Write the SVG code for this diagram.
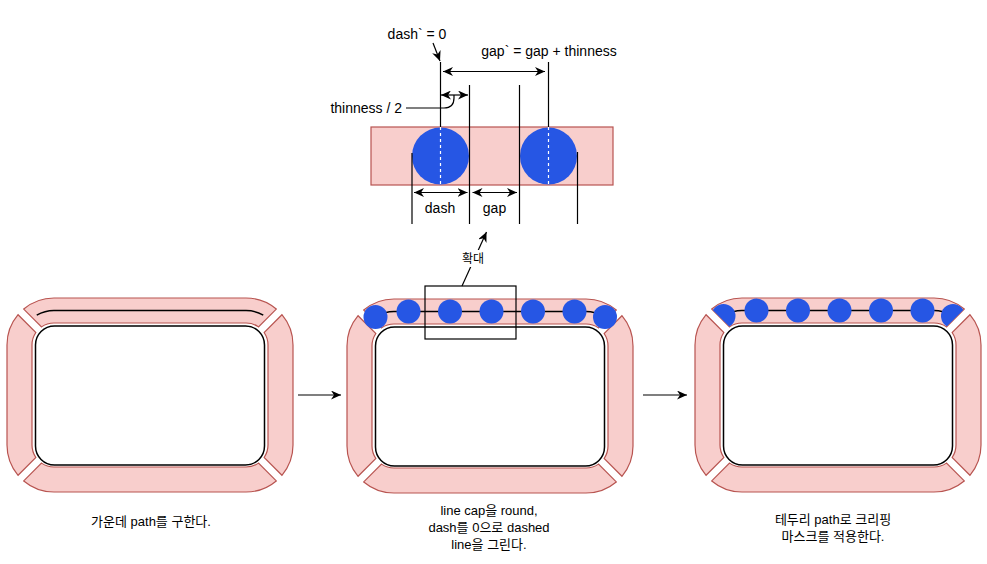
<svg xmlns="http://www.w3.org/2000/svg" width="987" height="564" viewBox="0 0 987 564">
<style>
.band{fill:#f8cecc;stroke:#b85450;stroke-width:1.2}
.inner{fill:#fff;stroke:#000;stroke-width:1.5}
.cpath{fill:none;stroke:#000;stroke-width:1.5}
.dot{fill:#2656e4}
.ln{fill:none;stroke:#000;stroke-width:1.2}
.wd{fill:none;stroke:#fff;stroke-width:1.2;stroke-dasharray:3 3}
.t{font-family:"Liberation Sans","Noto Sans CJK KR",sans-serif;fill:#000;text-anchor:middle}
.t14{font-size:14px}
.t13{font-size:13px}
.t12{font-size:12px}
</style>
<defs>
<marker id="ah" viewBox="0 0 10 9" refX="10" refY="4.5" markerWidth="10" markerHeight="9" markerUnits="userSpaceOnUse" orient="auto-start-reverse">
<path d="M0,0 L10,4.5 L0,9 L3,4.5 Z" fill="#000"/>
</marker>
<path id="toppiece" d="M16.72,11.06 A47,47 0 0 1 47,0 H239 A47,47 0 0 1 269.28,11.06 L251.47,28.87 A22,22 0 0 0 239,25 H47 A22,22 0 0 0 34.53,28.87 Z"/>
<clipPath id="topclip"><use href="#toppiece"/></clipPath>
<g id="frame">
<use href="#toppiece" class="band"/>
<path class="band" d="M16.72,182.94 A47,47 0 0 0 47,194 H239 A47,47 0 0 0 269.28,182.94 L251.47,165.13 A22,22 0 0 1 239,169 H47 A22,22 0 0 1 34.53,165.13 Z"/>
<path class="band" d="M11.06,16.72 A47,47 0 0 0 0,47 V147 A47,47 0 0 0 11.06,177.28 L28.87,159.47 A22,22 0 0 1 25,147 V47 A22,22 0 0 1 28.87,34.53 Z"/>
<path class="band" d="M274.94,16.72 A47,47 0 0 1 286,47 V147 A47,47 0 0 1 274.94,177.28 L257.13,159.47 A22,22 0 0 0 261,147 V47 A22,22 0 0 0 257.13,34.53 Z"/>
<rect class="inner" x="28.5" y="28" width="229" height="139" rx="19"/>
</g>
<path id="midline" class="cpath" d="M29.75,17.12 A34.5,34.5 0 0 1 47,12.5 H239 A34.5,34.5 0 0 1 256.25,17.12"/>
<g id="dots">
<circle class="dot" cx="28.5" cy="18" r="12"/>
<circle class="dot" cx="61.5" cy="12.5" r="12"/>
<circle class="dot" cx="103" cy="12.5" r="12"/>
<circle class="dot" cx="144.5" cy="12.5" r="12"/>
<circle class="dot" cx="186" cy="12.5" r="12"/>
<circle class="dot" cx="227.5" cy="12.5" r="12"/>
<circle class="dot" cx="258" cy="18" r="12"/>
</g>
</defs>

<g id="shape-left" transform="translate(7,298)">
<use href="#frame"/>
<use href="#midline"/>
</g>

<g id="shape-middle" transform="translate(347,299)">
<use href="#frame"/>
<use href="#midline"/>
<use href="#dots"/>
</g>

<g id="shape-right" transform="translate(695,298)">
<use href="#frame"/>
<g clip-path="url(#topclip)">
<use href="#midline"/>
<use href="#dots"/>
</g>
</g>

<g id="zoom-box">
<rect class="ln" x="425" y="286" width="91" height="53"/>
</g>

<g id="detail">
<rect class="band" x="371" y="127" width="242" height="58"/>
<circle class="dot" cx="440.5" cy="156" r="28.5"/>
<circle class="dot" cx="548.5" cy="156" r="28.5"/>
<line class="wd" x1="440.5" y1="127" x2="440.5" y2="185"/>
<line class="wd" x1="548.5" y1="127" x2="548.5" y2="185"/>
<line class="ln" x1="440.5" y1="62" x2="440.5" y2="127"/>
<line class="ln" x1="548.5" y1="62" x2="548.5" y2="127"/>
<line class="ln" x1="469.5" y1="85" x2="469.5" y2="224"/>
<line class="ln" x1="519.5" y1="85" x2="519.5" y2="224"/>
<line class="ln" x1="412" y1="153" x2="412" y2="224"/>
<line class="ln" x1="577.5" y1="152" x2="577.5" y2="224"/>
</g>

<g id="connectors">
<line class="ln" x1="298" y1="395" x2="341" y2="395" marker-end="url(#ah)"/>
<line class="ln" x1="643" y1="395" x2="687" y2="395" marker-end="url(#ah)"/>
<line class="ln" x1="462" y1="286" x2="486.5" y2="232" marker-end="url(#ah)"/>
<line class="ln" x1="433" y1="43" x2="440" y2="61" marker-end="url(#ah)"/>
<line class="ln" x1="443" y1="71.5" x2="545" y2="71.5" marker-start="url(#ah)" marker-end="url(#ah)"/>
<line class="ln" x1="441" y1="95" x2="468" y2="95" marker-start="url(#ah)" marker-end="url(#ah)"/>
<line class="ln" x1="414" y1="192.5" x2="467.5" y2="192.5" marker-start="url(#ah)" marker-end="url(#ah)"/>
<line class="ln" x1="472.5" y1="192.5" x2="517" y2="192.5" marker-start="url(#ah)" marker-end="url(#ah)"/>
<path class="ln" d="M406,108 H444 Q454,108 454,98 V95"/>
</g>

<g id="labels">
<text class="t t14" x="417" y="39">dash` = 0</text>
<text class="t t14" x="549" y="55.5">gap` = gap + thinness</text>
<text class="t t14" x="402" y="113" style="text-anchor:end">thinness / 2</text>
<text class="t t14" x="440" y="213">dash</text>
<text class="t t14" x="494.5" y="213">gap</text>
<rect x="460" y="250" width="26" height="17" fill="#fff"/>
<text class="t t12" x="473" y="263">확대</text>
<text class="t t13" x="151" y="525.5">가운데 path를 구한다.</text>
<text class="t t13" x="489" y="514.5">line cap을 round,</text>
<text class="t t13" x="489" y="531.5">dash를 0으로 dashed</text>
<text class="t t13" x="489" y="548.5">line을 그린다.</text>
<text class="t t13" x="833" y="523.5">테두리 path로 크리핑</text>
<text class="t t13" x="833" y="540.5">마스크를 적용한다.</text>
</g>
</svg>
